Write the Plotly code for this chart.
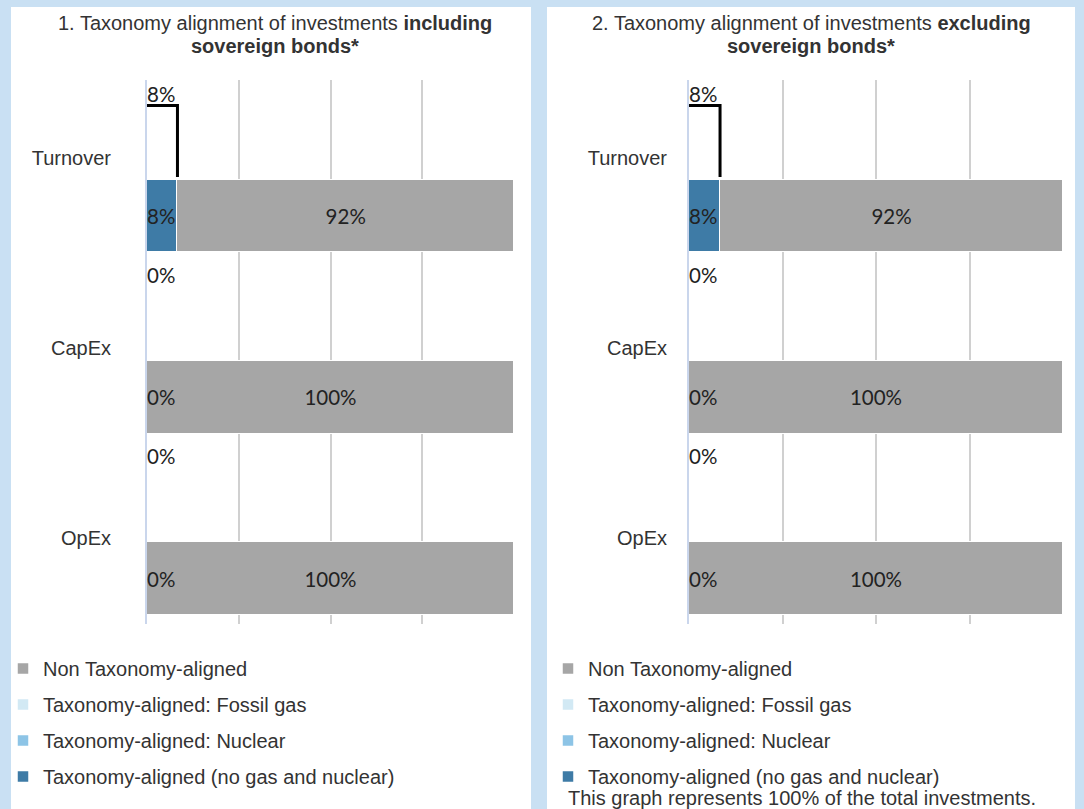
import plotly.graph_objects as go

# ---------------- data ----------------
categories = ["Turnover", "CapEx", "OpEx"]
title_line1 = ["1. Taxonomy alignment of investments <b>including</b>",
               "2. Taxonomy alignment of investments <b>excluding</b>"]
title_line2 = ["<b>sovereign bonds*</b>", "<b>sovereign bonds*</b>"]
footnote = "This graph represents 100% of the total investments."

# panel 1: including sovereign bonds (values in %)
incl_total_aligned = [8.3, 0, 0]
incl_no_gas_nuclear = [8.3, 0, 0]
incl_nuclear = [0, 0, 0]
incl_fossil_gas = [0, 0, 0]
incl_non_aligned = [91.7, 100, 100]

# panel 2: excluding sovereign bonds (values in %)
excl_total_aligned = [8.3, 0, 0]
excl_no_gas_nuclear = [8.3, 0, 0]
excl_nuclear = [0, 0, 0]
excl_fossil_gas = [0, 0, 0]
excl_non_aligned = [91.7, 100, 100]

series_names = ["Taxonomy-aligned (no gas and nuclear)", "Taxonomy-aligned: Nuclear",
                "Taxonomy-aligned: Fossil gas", "Non Taxonomy-aligned"]
x_ticks = [0, 25, 50, 75, 100]

# ---------------- style ----------------
BG = "#C9E0F3"
colors = ["#3E7BA6", "#8DC4E6", "#D2E9F4", "#A6A6A6"]
legend_rank = [4, 3, 2, 1]
TXT = "#333333"
LBL = "#222222"
ARIAL = "Liberation Sans"
LABEL_FONT = "Lato"
FS = 20
LFS = 20.5

W, H = 1084, 809
UP_TOP, UP_BOT = 0.14, 0.535   # upper bracket (total aligned) within each category slot
LO_C, LO_W = 0.75, 0.40        # lower (stacked) bar
LBL_DY = 0.016                 # small vertical nudge for bar labels
CAT_LABEL_POS = [0.43, 1.478, 2.526]


def pct(v):
    return f"{round(v):d}%"


panels = [
    dict(total=incl_total_aligned, series=[incl_no_gas_nuclear, incl_nuclear, incl_fossil_gas, incl_non_aligned],
         xdom=[147 / W, 514 / W], panel=[11, 531], title_x=275, standoff=30, legend_x=3, ax="", legend="legend"),
    dict(total=excl_total_aligned, series=[excl_no_gas_nuclear, excl_nuclear, excl_fossil_gas, excl_non_aligned],
         xdom=[689 / W, 1063 / W], panel=[547, 1075], title_x=811, standoff=16, legend_x=548, ax="2", legend="legend2"),
]

fig = go.Figure()
n = len(categories)
for p in panels:
    xa, ya = "x" + p["ax"], "y" + p["ax"]
    lo_y = [i + LO_C for i in range(n)]
    # stacked bars
    for k, (name, vals) in enumerate(zip(series_names, p["series"])):
        fig.add_trace(go.Bar(
            orientation="h", x=vals, y=lo_y, width=LO_W, xaxis=xa, yaxis=ya, name=name,
            marker=dict(color=colors[k], line=dict(color="white", width=1.5)),
            legend=p["legend"], legendgroup=p["legend"] + str(k), legendrank=legend_rank[k],
            hoverinfo="skip"))
    # bracket showing total taxonomy-aligned share (top and right edge)
    bx, by = [], []
    for i, v in enumerate(p["total"]):
        if v > 0:
            bx += [0, v, v, None]
            by += [i + UP_TOP, i + UP_TOP, i + UP_BOT, None]
    fig.add_trace(go.Scatter(x=bx, y=by, mode="lines", line=dict(color="black", width=3),
                             xaxis=xa, yaxis=ya, showlegend=False, hoverinfo="skip"))
    # labels: total aligned (above the bracket)
    fig.add_trace(go.Scatter(
        x=[0] * n, y=[i + UP_TOP + LBL_DY / 2 for i in range(n)], mode="text",
        text=[pct(v) for v in p["total"]], textposition="top right",
        textfont=dict(family=LABEL_FONT, size=LFS, color=LBL),
        xaxis=xa, yaxis=ya, showlegend=False, hoverinfo="skip", cliponaxis=False))
    # labels: lower bar, aligned part
    fig.add_trace(go.Scatter(
        x=[0] * n, y=[y + LBL_DY for y in lo_y], mode="text",
        text=[pct(v) for v in p["series"][0]], textposition="middle right",
        textfont=dict(family=LABEL_FONT, size=LFS, color=LBL),
        xaxis=xa, yaxis=ya, showlegend=False, hoverinfo="skip", cliponaxis=False))
    # labels: lower bar, non aligned part
    base = [a + b + c for a, b, c in zip(p["series"][0], p["series"][1], p["series"][2])]
    fig.add_trace(go.Scatter(
        x=[b + v / 2 for b, v in zip(base, p["series"][3])], y=[y + LBL_DY for y in lo_y], mode="text",
        text=[pct(v) for v in p["series"][3]], textposition="middle center",
        textfont=dict(family=LABEL_FONT, size=LFS, color=LBL),
        xaxis=xa, yaxis=ya, showlegend=False, hoverinfo="skip", cliponaxis=False))

ydom = [(H - 624) / H, (H - 80) / H]
layout_axes = {}
for p in panels:
    suf = p["ax"]
    layout_axes["xaxis" + suf] = dict(
        domain=p["xdom"], range=[0, 100], tickvals=x_ticks, showticklabels=False,
        showgrid=True, gridcolor="#D0D0D0", gridwidth=2, zeroline=False, showline=False,
        anchor="y" + suf, fixedrange=True)
    layout_axes["yaxis" + suf] = dict(
        domain=ydom, range=[3, 0], showgrid=False, zeroline=False,
        showline=True, linecolor="#CAD6EC", linewidth=2, layer="below traces",
        tickvals=CAT_LABEL_POS, ticktext=categories, ticks="",
        ticklabelstandoff=p["standoff"], tickfont=dict(family=ARIAL, size=FS, color=TXT),
        anchor="x" + suf, fixedrange=True)

shapes = [dict(type="rect", xref="paper", yref="paper", x0=p["panel"][0] / W, x1=p["panel"][1] / W,
               y0=0, y1=(H - 7) / H, fillcolor="white", line=dict(width=0), layer="below")
          for p in panels]

annotations = []
for idx, p in enumerate(panels):
    cx = p["title_x"] / W
    annotations.append(dict(text=title_line1[idx], x=cx, y=(H - 23) / H, xref="paper", yref="paper",
                            xanchor="center", yanchor="middle", showarrow=False,
                            font=dict(family=ARIAL, size=FS, color=TXT)))
    annotations.append(dict(text=title_line2[idx], x=cx, y=(H - 46) / H, xref="paper", yref="paper",
                            xanchor="center", yanchor="middle", showarrow=False,
                            font=dict(family=ARIAL, size=FS, color=TXT)))
annotations.append(dict(text=footnote, x=566 / W, y=(H - 798) / H, xref="paper", yref="paper",
                        xanchor="left", yanchor="middle", showarrow=False,
                        font=dict(family=ARIAL, size=FS, color=TXT)))

legend_common = dict(xanchor="left", yanchor="top", y=(H - 649) / H, bgcolor="rgba(0,0,0,0)",
                     font=dict(family=ARIAL, size=FS, color=TXT), tracegroupgap=7,
                     traceorder="grouped")

fig.update_layout(
    width=W, height=H, margin=dict(l=0, r=0, t=0, b=0),
    paper_bgcolor=BG, plot_bgcolor="white", barmode="stack", bargap=0,
    showlegend=True,
    legend=dict(x=panels[0]["legend_x"] / W, **legend_common),
    legend2=dict(x=panels[1]["legend_x"] / W, **legend_common),
    shapes=shapes, annotations=annotations, **layout_axes)

fig.write_html("out.html")
